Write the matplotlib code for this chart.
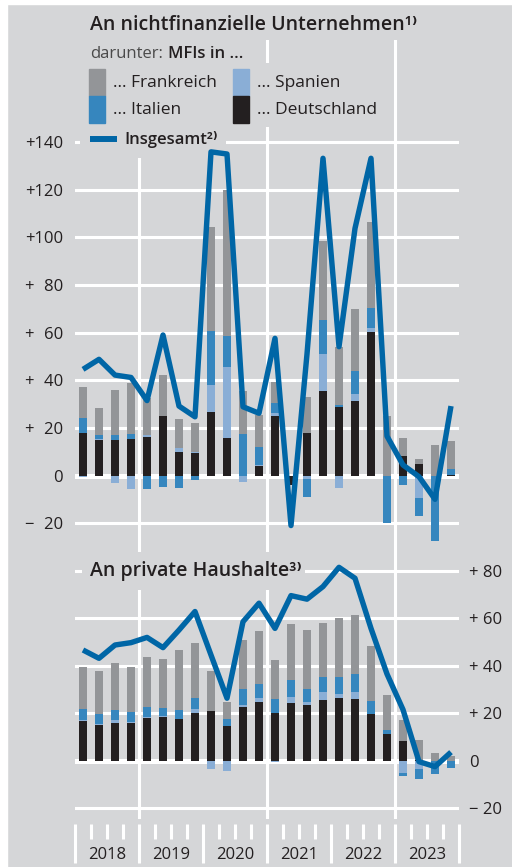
import numpy as np
import matplotlib
matplotlib.use('Agg')
import matplotlib.pyplot as plt
import matplotlib.transforms as mtransforms
from matplotlib.patches import Rectangle
from matplotlib.lines import Line2D

plt.rcParams['font.family'] = ['Open Sans', 'DejaVu Sans']

years = ['2018', '2019', '2020', '2021', '2022', '2023']

# An nichtfinanzielle Unternehmen (quarterly, 2018 Q1 - 2023 Q4)
nfc_de = [18.0, 15.0, 15.0, 15.3, 16.4, 25.2, 10.1, 9.4, 26.6, 15.9, 0.0, 4.2,
          25.2, -4.0, 18.0, 35.6, 28.7, 31.5, 60.4, 0.0, 8.3, 4.9, 0.0, 0.5]
nfc_es = [-0.5, 0.5, -3.0, -5.6, 0.7, 0.0, 1.7, 0.5, 11.4, 29.5, -2.5, 0.5,
          1.0, 0.0, -1.5, 15.4, -5.3, 2.8, 1.7, 0.0, 0.0, -9.5, 0.0, 0.0]
nfc_it = [6.3, 1.5, 2.1, 2.0, -5.6, -4.6, -5.0, -2.0, 22.7, 13.2, 17.5, 7.5,
          4.4, 0.0, -7.3, 14.3, 1.0, 9.8, 8.1, -20.0, -3.9, -7.4, -27.3, 2.5]
nfc_fr = [13.0, 11.5, 19.0, 21.7, 15.3, 17.0, 12.0, 12.0, 43.7, 61.4, 18.0, 13.2,
          8.8, 0.0, 15.0, 33.1, 24.4, 25.8, 36.3, 25.0, 7.4, 2.1, 12.9, 11.5]
nfc_total = [44.6, 48.8, 42.2, 41.2, 31.5, 59.0, 29.2, 24.7, 135.8, 134.9, 28.9, 26.2,
             57.6, -20.9, 51.0, 133.1, 54.1, 103.7, 133.1, 16.6, 4.5, -0.4, -9.9, 29.2]

# An private Haushalte
hh_de = [16.7, 15.0, 15.7, 15.7, 17.8, 18.3, 17.7, 20.2, 20.9, 14.6, 22.5, 24.8,
         20.2, 24.2, 23.5, 25.6, 26.5, 26.0, 19.5, 11.2, 8.4, 0.5, 0.0, 0.0]
hh_es = [0.5, 0.6, 1.4, 0.7, 0.7, 0.6, 0.0, 1.7, -3.5, -4.2, 1.0, 1.8,
         -0.5, 2.5, 1.1, 3.2, 1.4, 2.8, 0.0, 0.0, -5.0, -3.4, 0.0, 0.0]
hh_it = [4.5, 4.0, 4.2, 3.9, 4.1, 3.4, 3.6, 4.5, 0.0, 2.8, 6.7, 5.8,
         5.8, 7.3, 5.6, 6.6, 7.3, 7.9, 5.6, 1.7, -1.4, -4.4, -5.5, -3.0]
hh_fr = [17.8, 18.1, 19.7, 19.3, 21.2, 20.6, 25.3, 23.0, 17.0, 7.4, 20.6, 22.2,
         16.4, 23.6, 24.8, 22.7, 24.8, 24.6, 23.2, 14.8, 8.6, 8.2, 3.1, 2.0]
hh_total = [46.6, 43.1, 48.7, 49.7, 51.9, 47.6, 55.0, 62.8, 44.5, 26.3, 58.5, 66.3,
            55.7, 69.5, 68.0, 73.3, 81.4, 76.8, 55.7, 36.5, 21.5, -0.4, -2.5, 3.6]

top_ticks = [-20, 0, 20, 40, 60, 80, 100, 120, 140]
top_labels = ['\u2212\u200720', '0', '+\u200720', '+\u200740', '+\u200760', '+\u200780',
              '+100', '+120', '+140']
bot_ticks = [-20, 0, 20, 40, 60, 80]
bot_labels = ['\u2212 20', '0', '+ 20', '+ 40', '+ 60', '+ 80']

BG = '#d5d6d8'
C_FR = '#939598'
C_ES = '#8aaed6'
C_IT = '#3686be'
C_DE = '#231f20'
C_LINE = '#0066a6'

W, H = 512, 867
fig = plt.figure(figsize=(W / 100, H / 100), dpi=100)
fig.patch.set_facecolor(BG)

def fx(x):
    return x / W

def fy(y):
    return 1 - y / H

# white margin strips like the original
fig.add_artist(Rectangle((0, 0), fx(7), 1, transform=fig.transFigure, color='white', zorder=5))
fig.add_artist(Rectangle((0, fy(4)), 1, 1 - fy(4), transform=fig.transFigure, color='white', zorder=5))

ax1 = fig.add_axes([fx(75), fy(550), fx(459) - fx(75), fy(40) - fy(550)])
ax2 = fig.add_axes([fx(75), fy(824), fx(459) - fx(75), fy(550) - fy(824)])

n = len(nfc_total)
x = np.arange(n)

def stacked(ax, series):
    pos = np.zeros(n)
    neg = np.zeros(n)
    for vals, c in series:
        v = np.array(vals, float)
        base = np.where(v >= 0, pos, neg)
        ax.bar(x, v, width=0.52, bottom=base, color=c, linewidth=0, zorder=2)
        pos += np.clip(v, 0, None)
        neg += np.clip(v, None, 0)

for ax, ylim, series, total, ticks, labels in [
        (ax1, (-31.15, 182.7), [(nfc_de, C_DE), (nfc_es, C_ES), (nfc_it, C_IT), (nfc_fr, C_FR)],
         nfc_total, top_ticks, top_labels),
        (ax2, (-26.65, 88.7), [(hh_de, C_DE), (hh_es, C_ES), (hh_it, C_IT), (hh_fr, C_FR)],
         hh_total, bot_ticks, bot_labels)]:
    ax.set_facecolor('none')
    for s in ax.spines.values():
        s.set_visible(False)
    ax.set_xlim(-0.5, n - 0.5)
    ax.set_ylim(*ylim)
    ax.set_axisbelow(True)
    ax.set_yticks(ticks)
    ax.set_yticklabels(labels)
    ax.grid(axis='y', color='white', lw=2.2)
    ax.grid(axis='x', visible=False)
    ax.axhline(0, color='white', lw=3.6, zorder=0.7)
    stacked(ax, series)
    ax.plot(x, total, color=C_LINE, lw=3.9, solid_joinstyle='round',
            solid_capstyle='butt', zorder=3)

# vertical year-pair lines
ax1.axvline(3.5, ymin=0, ymax=(550 - 158) / 510, color='white', lw=2.2, zorder=0.6)
ax1.axvline(11.5, color='white', lw=2.2, zorder=0.6)
ax1.axvline(19.5, color='white', lw=2.2, zorder=0.6)
for xv in [3.5, 11.5, 19.5]:
    ax2.axvline(xv, ymin=7 / 274, color='white', lw=2.2, zorder=0.6)

# background boxes under legend / title
def cover(ax, x0, y0, x1, y1):
    ax.add_patch(Rectangle((fx(x0), fy(y1)), fx(x1) - fx(x0), fy(y0) - fy(y1),
                           transform=fig.transFigure, facecolor=BG, edgecolor='none',
                           zorder=1, clip_on=False))

cover(ax1, 80, 126, 226, 158)
cover(ax1, 252, 63, 385, 127)
cover(ax2, 82, 552, 305, 590)

ax1.tick_params(axis='x', bottom=False, labelbottom=False)
ax1.tick_params(axis='y', length=0, pad=8.5, labelsize=12, labelcolor='#231f20')
ax2.yaxis.tick_right()
ax2.tick_params(axis='y', length=0, pad=7, labelsize=12, labelcolor='#231f20')
for lab in ax2.get_yticklabels():
    lab.set_horizontalalignment('left')

ax2.set_xticks(np.arange(-0.5, n, 4))
ax2.set_xticks([q - 0.5 for q in range(n + 1) if q % 4 != 0], minor=True)
ax2.tick_params(axis='x', which='major', direction='out', length=28, width=2.2,
                color='white', labelbottom=False)
ax2.tick_params(axis='x', which='minor', direction='out', length=11, width=2.2,
                color='white', labelbottom=False)

trans = mtransforms.blended_transform_factory(ax2.transData, fig.transFigure)
for i, yr in enumerate(years):
    ax2.text(4 * i + 1.5, fy(855), yr, transform=trans, ha='center', va='center',
             fontsize=12, color='#231f20', clip_on=False)

# titles and legend
tc = '#231f20'
fig.text(fx(90), fy(25), 'An nichtfinanzielle Unternehmen\u00b9\u207e', va='center',
         fontsize=14, weight='semibold', color=tc)
fig.text(fx(90), fy(571), 'An private Haushalte\u00b3\u207e', va='center',
         fontsize=14, weight='semibold', color=tc)
fig.text(fx(90), fy(54), 'darunter:', va='center', fontsize=12, color='#4a4a4a')
fig.text(fx(168), fy(54), 'MFIs in ...', va='center', fontsize=12, weight='semibold', color=tc)

legend_items = [('... Frankreich', C_FR, 89, 69), ('... Italien', C_IT, 89, 96),
                ('... Spanien', C_ES, 233, 69), ('... Deutschland', C_DE, 233, 96)]
for label, c, lx, ly in legend_items:
    fig.add_artist(Rectangle((fx(lx), fy(ly + 27)), fx(16), 27 / H,
                             transform=fig.transFigure, color=c))
    fig.text(fx(lx + 24), fy(ly + 14), label, va='center', fontsize=12.5, color=tc)

fig.add_artist(Line2D([fx(90), fx(117)], [fy(139), fy(139)], transform=fig.transFigure,
                      color=C_LINE, lw=4.3, solid_capstyle='butt'))
fig.text(fx(124), fy(139), 'Insgesamt\u00b2\u207e', va='center', fontsize=12,
         weight='semibold', color=tc)

fig.savefig('out.png', dpi=100, facecolor=fig.get_facecolor())
